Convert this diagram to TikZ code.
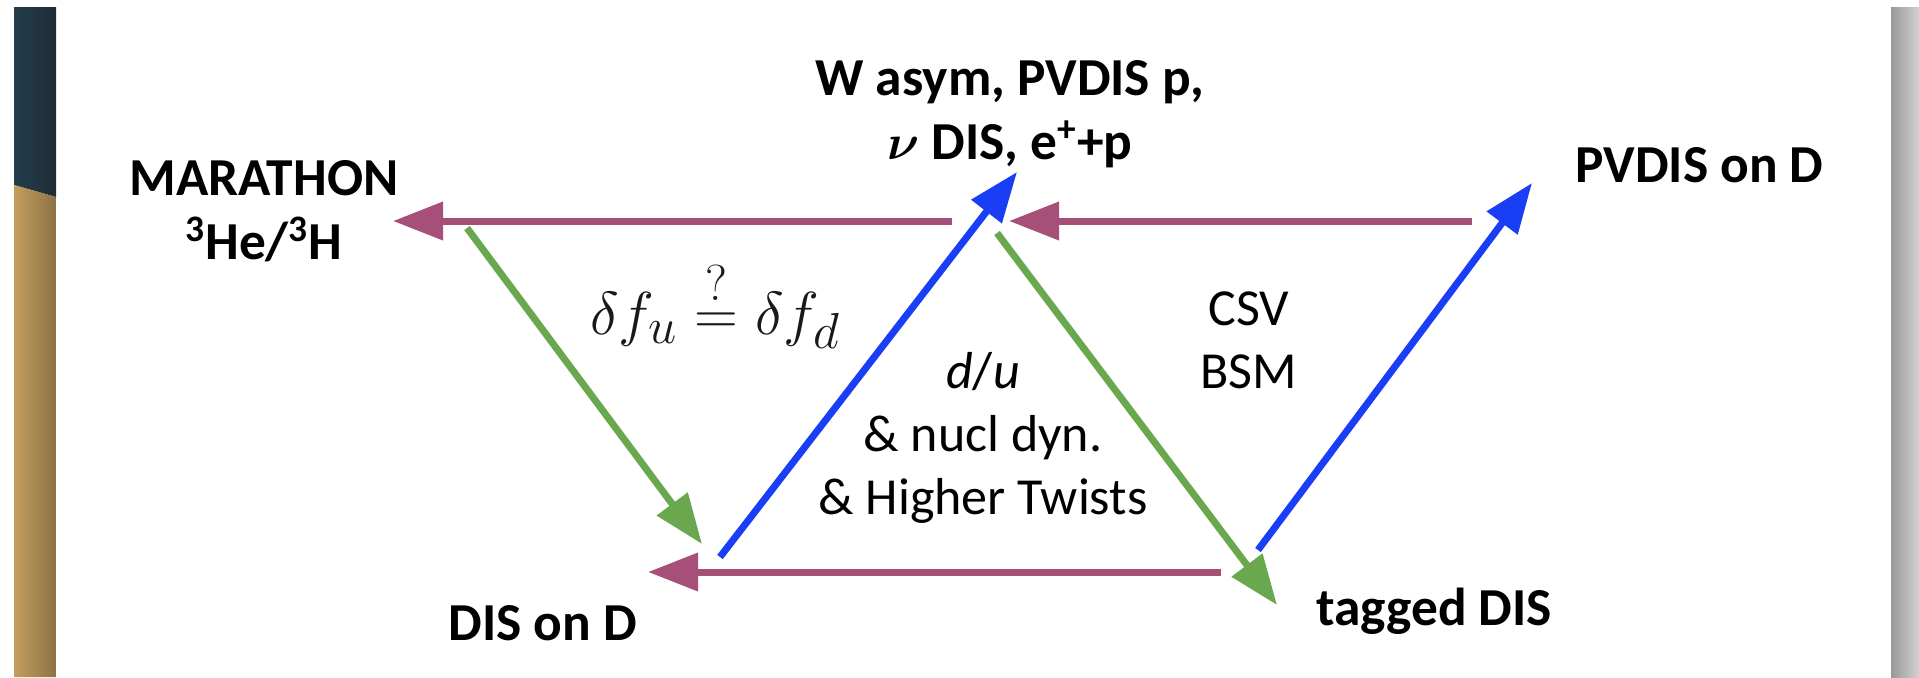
\documentclass[tikz,border=0pt]{standalone}
\usepackage{amsmath}
\usepackage{graphicx}
\usepackage{fontspec}
\setmainfont{Carlito}
\usetikzlibrary{arrows.meta}
\definecolor{mag}{HTML}{A64F78}
\definecolor{grn}{HTML}{6AA84F}
\definecolor{blu}{HTML}{1A3DF6}
\definecolor{darkA}{HTML}{243C4C}
\definecolor{darkB}{HTML}{1E2D37}
\definecolor{goldA}{HTML}{C49E5E}
\definecolor{goldB}{HTML}{8C7345}
\tikzset{
  arr/.style={line width=3.5pt, -{Triangle[length=25pt,width=18.5pt]}},
  lbl/.style={inner sep=0pt, font=\fontsize{26.7}{32}\selectfont\bfseries, align=center},
  txt/.style={inner sep=0pt, font=\fontsize{26}{31.5}\selectfont, align=center},
}
\begin{document}
\begin{tikzpicture}[x=0.5pt,y=-0.5pt]
\useasboundingbox (0,0) rectangle (1919,677);
\fill[white] (0,0) rectangle (1919,677);
% side stripes
\shade[left color=darkA, right color=darkB] (14,7) -- (56,7) -- (56,197) -- (14,185) -- cycle;
\shade[left color=goldA, right color=goldB] (14,185) -- (56,197) -- (56,677) -- (14,677) -- cycle;
\shade[left color=black!40, right color=black!18] (1891,7) rectangle (1919,677);
% labels
\node[lbl, anchor=north] (mar) at (264,160) {MARATHON\\\textsuperscript{3}He/\textsuperscript{3}H};
\node[lbl, anchor=north] (wasym) at (1010,60) {W asym, PVDIS p,\\$\boldsymbol{\nu}$ DIS, e\textsuperscript{+}+p};
\node[lbl, anchor=base west] (pvd) at (1575,182) {PVDIS on D};
\node[lbl, anchor=base west] (disd) at (448,640) {DIS on D};
\node[lbl, anchor=base west] (tag) at (1316,625) {tagged DIS};
\node[txt, anchor=north] (csv) at (1249,291) {CSV\\BSM};
\node[txt, anchor=north] (du) at (983,352) {\textit{d}/\textit{u}\\\& nucl dyn.\\\& Higher Twists};
\node[inner sep=0pt, anchor=base west, font=\fontsize{24.88}{30}\selectfont, text=black!90] (eq) at (590,334) {\scalebox{1.22}{$\delta f_u \stackrel{?}{=} \delta f_d$}};
% arrow end points
\coordinate (m1s) at (952,221);  \coordinate (m1e) at (393,221);
\coordinate (m2s) at (1472,221); \coordinate (m2e) at (1009,221);
\coordinate (m3s) at (1221,572); \coordinate (m3e) at (648,572);
\coordinate (g1s) at (467,228);  \coordinate (g1e) at (702,544);
\coordinate (g2s) at (997,233);  \coordinate (g2e) at (1277,605);
\coordinate (b1s) at (720,557);  \coordinate (b1e) at (1017,172);
\coordinate (b2s) at (1258,550); \coordinate (b2e) at (1532,183);
% arrows
\draw[arr, mag] (m1s) -- (m1e);
\draw[arr, mag] (m2s) -- (m2e);
\draw[arr, mag] (m3s) -- (m3e);
\draw[arr, grn] (g1s) -- (g1e);
\draw[arr, grn] (g2s) -- (g2e);
\draw[arr, blu] (b1s) -- (b1e);
\draw[arr, blu] (b2s) -- (b2e);
\end{tikzpicture}
\end{document}
